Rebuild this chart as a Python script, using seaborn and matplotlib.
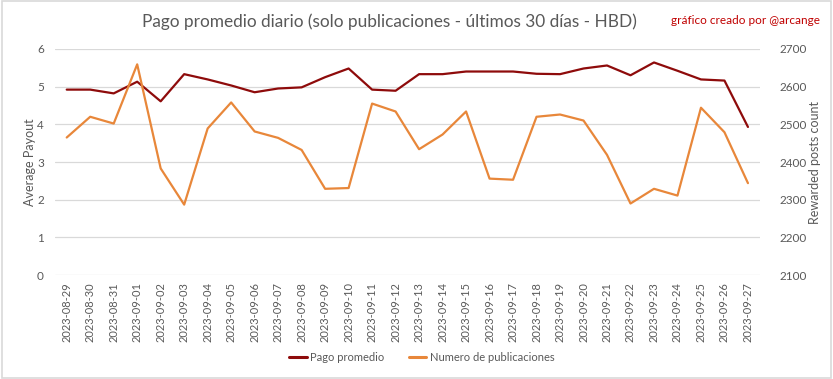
import matplotlib
matplotlib.use("Agg")
import matplotlib.pyplot as plt
import seaborn as sns
import pandas as pd
from matplotlib.patches import Rectangle
from matplotlib.lines import Line2D

dates = ["2023-08-29", "2023-08-30", "2023-08-31", "2023-09-01", "2023-09-02", "2023-09-03",
         "2023-09-04", "2023-09-05", "2023-09-06", "2023-09-07", "2023-09-08", "2023-09-09",
         "2023-09-10", "2023-09-11", "2023-09-12", "2023-09-13", "2023-09-14", "2023-09-15",
         "2023-09-16", "2023-09-17", "2023-09-18", "2023-09-19", "2023-09-20", "2023-09-21",
         "2023-09-22", "2023-09-23", "2023-09-24", "2023-09-25", "2023-09-26", "2023-09-27"]
pago_promedio = [4.92, 4.92, 4.82, 5.13, 4.61, 5.33, 5.19, 5.03, 4.85, 4.95, 4.98, 5.25,
                 5.48, 4.92, 4.89, 5.33, 5.33, 5.40, 5.40, 5.40, 5.34, 5.33, 5.48, 5.56,
                 5.30, 5.64, 5.42, 5.19, 5.16, 3.93]
num_publicaciones = [2465, 2520, 2502, 2659, 2383, 2287, 2489, 2558, 2481, 2464, 2432, 2329,
                     2331, 2555, 2534, 2434, 2473, 2534, 2356, 2353, 2520, 2526, 2510, 2419,
                     2290, 2329, 2311, 2544, 2479, 2344]
left_ticks = [0, 1, 2, 3, 4, 5, 6]
right_ticks = [2100, 2200, 2300, 2400, 2500, 2600, 2700]

df = pd.DataFrame({"idx": range(len(dates)), "fecha": dates,
                   "pago": pago_promedio, "num": num_publicaciones})

sns.set_theme(style="white")
plt.rcParams["font.family"] = ["Lato", "DejaVu Sans"]

RED = "#8E0B0B"
ORANGE = "#E8873A"
GREY = "#595959"

fig = plt.figure(figsize=(8.33, 3.79), dpi=100)
ax = fig.add_axes([0.066, 0.274, 0.846, 0.597])
ax2 = ax.twinx()

sns.lineplot(data=df, x="idx", y="pago", ax=ax, color=RED, linewidth=1.6)
sns.lineplot(data=df, x="idx", y="num", ax=ax2, color=ORANGE, linewidth=1.6)

ax.set_xlim(-0.5, len(dates) - 0.5)
ax.set_ylim(0, 6)
ax2.set_ylim(2100, 2700)
ax.set_yticks(left_ticks)
ax2.set_yticks(right_ticks)
ax.set_xticks(range(len(dates)))
ax.set_xticklabels(dates, rotation=90, fontsize=8, color=GREY)
ax.tick_params(axis="y", labelsize=8.5, labelcolor=GREY, length=0, pad=8)
ax2.tick_params(axis="y", labelsize=8.5, labelcolor=GREY, length=0, pad=14)
ax.tick_params(axis="x", length=0, pad=5)

ax.grid(axis="y", color="#D9D9D9", linewidth=0.9)
ax.set_axisbelow(True)
ax.set_zorder(ax2.get_zorder() - 1)
ax2.patch.set_visible(False)
for a in (ax, ax2):
    for s in a.spines.values():
        s.set_visible(False)

ax.set_xlabel("")
ax.set_ylabel("Average Payout", fontsize=9, color=GREY, labelpad=1)
ax2.set_ylabel("Rewarded posts count", fontsize=9, color=GREY, labelpad=2)

fig.text(0.468, 0.942, "Pago promedio diario (solo publicaciones - últimos 30 días - HBD)",
         ha="center", va="center", fontsize=12.4, color=GREY)
fig.text(0.895, 0.947, "gráfico creado por @arcange", ha="center", va="center",
         fontsize=8.5, color="#C00000")

handles = [Line2D([0], [0], color=RED, linewidth=2.2),
           Line2D([0], [0], color=ORANGE, linewidth=2.2)]
fig.legend(handles, ["Pago promedio", "Numero de publicaciones"], loc="center",
           bbox_to_anchor=(0.506, 0.058), ncol=2, frameon=False, fontsize=8,
           labelcolor=GREY, handlelength=1.6, handletextpad=0.3, columnspacing=2.2)

fig.patches.append(Rectangle((0.002, 0.003), 0.996, 0.994, transform=fig.transFigure,
                             fill=False, edgecolor="#D9D9D9", linewidth=1.2))

fig.savefig("out.png", dpi=100)
